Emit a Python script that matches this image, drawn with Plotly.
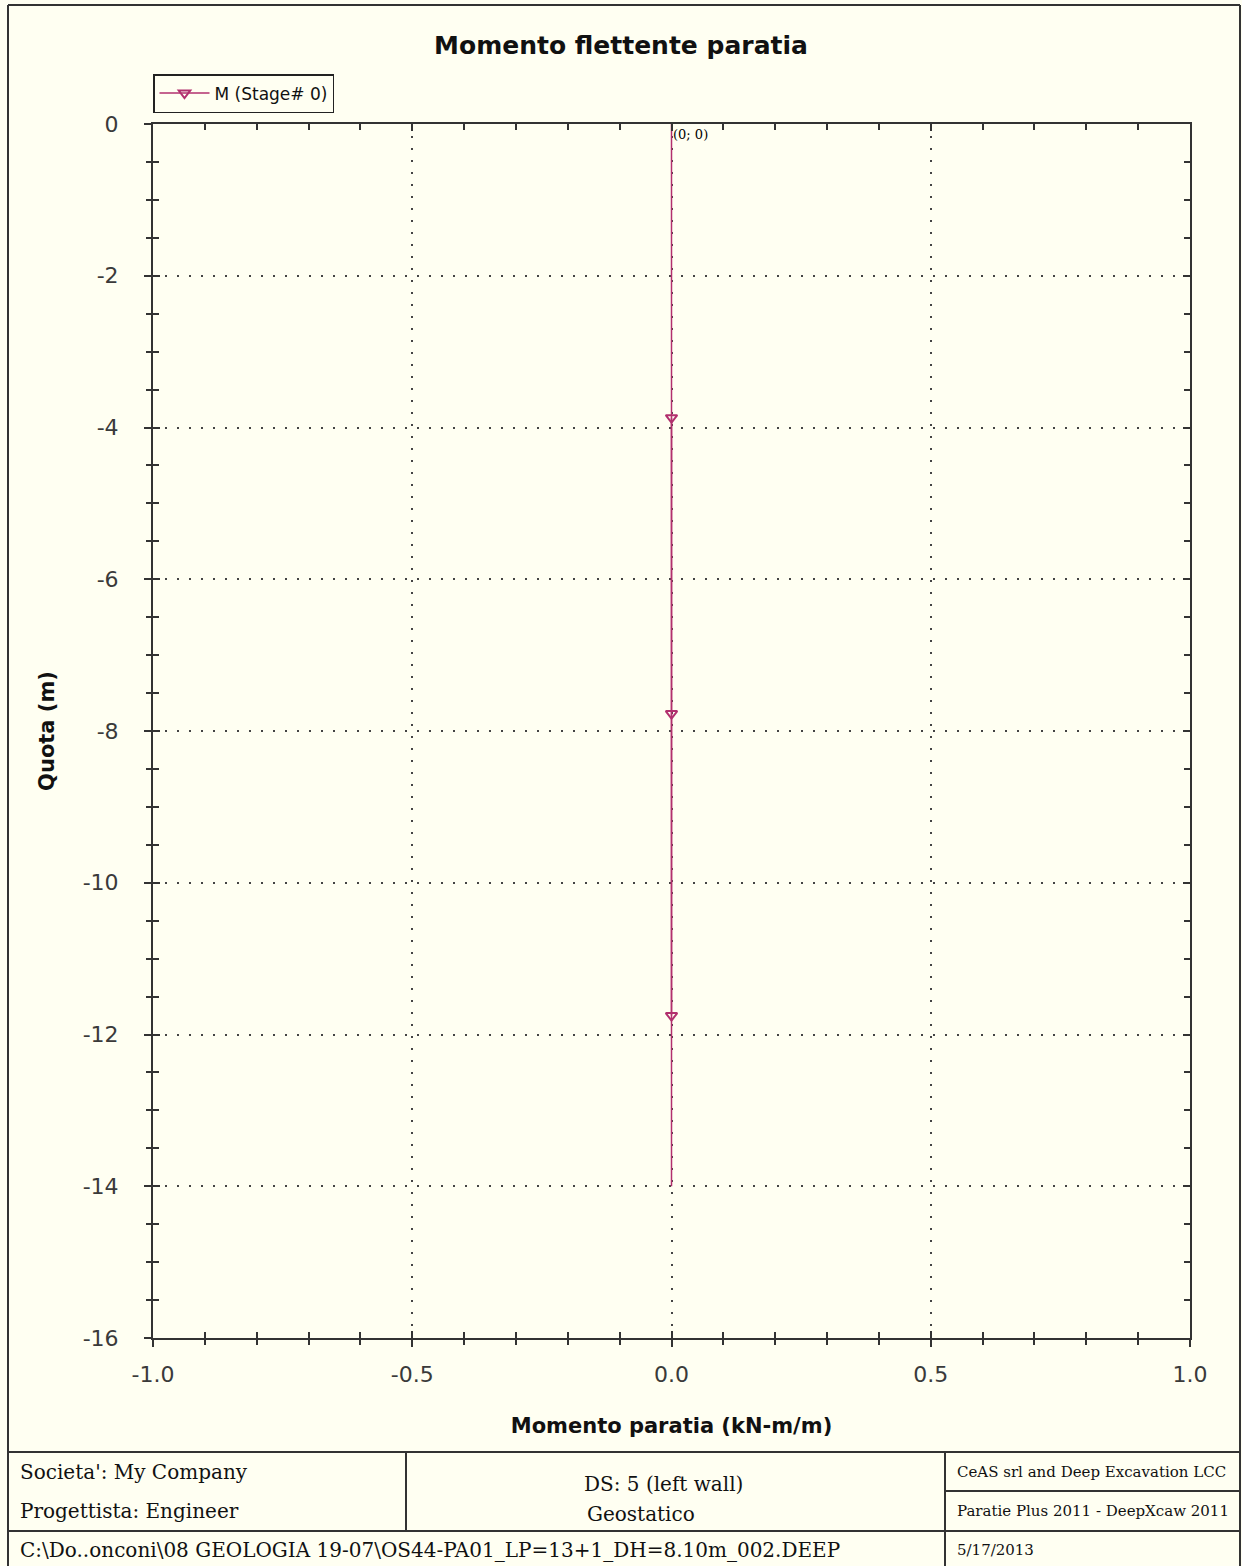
import plotly.graph_objects as go

# ---- data ----
quota_line = [0.0, -3.87, -7.77, -11.75, -14.0]
moment_line = [0.0, 0.0, 0.0, 0.0, 0.0]
quota_marks = [-3.87, -7.77, -11.75]
moment_marks = [0.0, 0.0, 0.0]
series_name = "M (Stage# 0)"
point_label = "(0; 0)"
x_tickvals = [-1.0, -0.5, 0.0, 0.5, 1.0]
x_ticktext = ["-1.0", "-0.5", "0.0", "0.5", "1.0"]
y_tickvals = [0, -2, -4, -6, -8, -10, -12, -14, -16]
y_ticktext = ["0", "-2", "-4", "-6", "-8", "-10", "-12", "-14", "-16"]

W, H = 1242, 1566
L, R, T, B = 153, 1190, 124, 1338
BG = "#FFFFF2"
LINE = "#B2306E"
INK = "#333333"


def px(x):
    return (x - L) / (R - L)


def py(y):
    return (B - y) / (B - T)


fig = go.Figure()
fig.add_trace(go.Scatter(x=moment_line, y=quota_line, mode="lines",
                         line=dict(color=LINE, width=1.5), showlegend=False,
                         hoverinfo="skip"))
fig.add_trace(go.Scatter(x=moment_marks, y=quota_marks, mode="lines+markers",
                         name=series_name,
                         line=dict(color=LINE, width=1.5),
                         marker=dict(symbol="triangle-down-open", size=10,
                                     color=LINE, line=dict(width=2))))
fig.add_trace(go.Scatter(x=[None], y=[None], xaxis="x2", yaxis="y2",
                         showlegend=False))

fig.add_annotation(x=moment_line[0], y=quota_line[0], text=point_label,
                   showarrow=False, xanchor="left", yanchor="top",
                   xshift=-1, yshift=-1,
                   font=dict(family="DejaVu Serif", size=13, color="#000"))

tickfont = dict(family="DejaVu Sans", size=22, color="#3a3a3a")
grid_dash = "2px,10px"
fig.update_layout(
    width=W, height=H,
    margin=dict(l=L, r=W - R, t=T, b=H - B),
    paper_bgcolor=BG, plot_bgcolor=BG,
    title=dict(text="<b>Momento flettente paratia</b>", x=0.5, xanchor="center",
               y=1 - 45 / H, yanchor="middle",
               font=dict(family="DejaVu Sans", size=25, color="#111")),
    xaxis=dict(range=[-1, 1], tickvals=x_tickvals, ticktext=x_ticktext,
               showgrid=True, gridcolor="#444", griddash=grid_dash, gridwidth=1.5,
               zeroline=False, showline=True, linecolor=INK, linewidth=2,
               mirror="ticks", ticks="inside", ticklen=7, tickwidth=2,
               tickcolor=INK, tickfont=tickfont, ticklabelstandoff=16,
               minor=dict(dtick=0.1, tick0=-1, ticks="inside", ticklen=6,
                          tickwidth=1.5, tickcolor=INK, showgrid=False),
               title=dict(text="<b>Momento paratia (kN-m/m)</b>", standoff=32,
                          font=dict(family="DejaVu Sans", size=21, color="#111"))),
    yaxis=dict(range=[-16, 0], tickvals=y_tickvals, ticktext=y_ticktext,
               showgrid=True, gridcolor="#444", griddash=grid_dash, gridwidth=1.5,
               zeroline=False, showline=True, linecolor=INK, linewidth=2,
               mirror="ticks", ticks="inside", ticklen=7, tickwidth=2,
               tickcolor=INK, tickfont=tickfont, ticklabelstandoff=28,
               minor=dict(dtick=0.5, tick0=0, ticks="inside", ticklen=6,
                          tickwidth=1.5, tickcolor=INK, showgrid=False),
               title=dict(text="<b>Quota (m)</b>", standoff=22,
                          font=dict(family="DejaVu Sans", size=21, color="#111"))),
    xaxis2=dict(range=[-1, 1], overlaying="x", tickvals=x_tickvals,
                showticklabels=False, showgrid=False, zeroline=False,
                ticks="outside", ticklen=8, tickwidth=2,
                tickcolor=INK, showline=False,
                minor=dict(dtick=0.1, tick0=-1, ticks="outside", ticklen=6,
                           tickwidth=1.5, tickcolor=INK)),
    yaxis2=dict(range=[-16, 0], overlaying="y", tickvals=y_tickvals,
                showticklabels=False, showgrid=False, zeroline=False,
                ticks="outside", ticklen=8, tickwidth=2,
                tickcolor=INK, showline=False,
                minor=dict(dtick=0.5, tick0=0, ticks="outside", ticklen=6,
                           tickwidth=1.5, tickcolor=INK)),
    legend=dict(x=0, y=py(113), xanchor="left", yanchor="bottom",
                bgcolor=BG, bordercolor="#222", borderwidth=1.5,
                font=dict(family="DejaVu Sans", size=17, color="#111"),
                itemwidth=50, tracegroupgap=0),
    showlegend=True,
)

# outer frame and footer table
shapes = []
def seg(x0, y0, x1, y1, w=2):
    shapes.append(dict(type="line", xref="paper", yref="paper",
                       x0=px(x0), y0=py(y0), x1=px(x1), y1=py(y1),
                       line=dict(color="#333", width=w)))

seg(8, 5, 1240, 5)
seg(8, 5, 8, 1566)
seg(1240, 5, 1240, 1566)
seg(8, 1452, 1240, 1452)
seg(8, 1531, 1240, 1531)
seg(406, 1452, 406, 1531)
seg(945, 1452, 945, 1566)
seg(945, 1491, 1240, 1491)
fig.update_layout(shapes=shapes)

serif = "DejaVu Serif"
def txt(x, y, s, size=19, anchor="left"):
    fig.add_annotation(xref="paper", yref="paper", x=px(x), y=py(y), text=s,
                       showarrow=False, xanchor=anchor, yanchor="middle",
                       font=dict(family=serif, size=size, color="#111"))

txt(18, 1472, "Societa': My Company", size=20)
txt(18, 1511, "Progettista: Engineer", size=20)
txt(663, 1484, "DS: 5 (left wall)", size=20, anchor="center")
txt(641, 1514, "Geostatico", size=20, anchor="center")
txt(955, 1472, "CeAS srl and Deep Excavation LCC", size=15)
txt(955, 1511, "Paratie Plus 2011 - DeepXcaw 2011", size=15)
txt(18, 1550, "C:\\Do..onconi\\08 GEOLOGIA 19-07\\OS44-PA01_LP=13+1_DH=8.10m_002.DEEP",
    size=20)
txt(955, 1550, "5/17/2013", size=15)

fig.write_html("out.html", config={"displayModeBar": False},
               post_script="document.body.style.margin='0';"
                           "document.body.style.background='" + BG + "';")
